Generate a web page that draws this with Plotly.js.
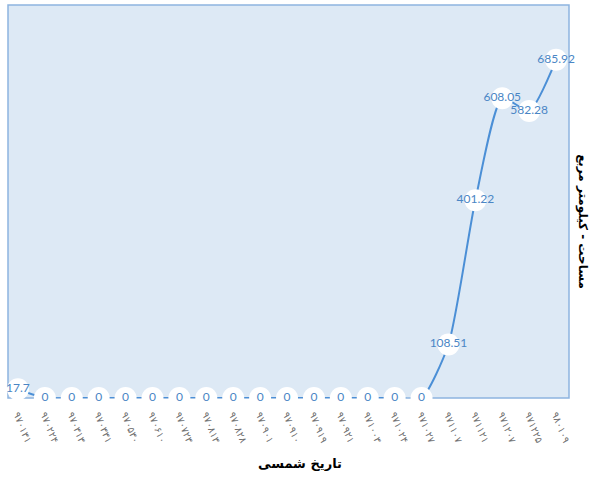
<!DOCTYPE html>
<html>
<head>
<meta charset="utf-8">
<script src="https://cdn.plot.ly/plotly-3.0.1.min.js"></script>
<style>html,body{margin:0;padding:0;background:#fff;}#chart{width:600px;height:479px;}</style>
</head>
<body>
<div id="chart"></div>
<script>
var dates = ['۹۷۰۱۳۱','۹۷۰۲۲۴','۹۷۰۳۱۳','۹۷۰۳۳۱','۹۷۰۵۳۰','۹۷۰۶۱۰','۹۷۰۷۲۳','۹۷۰۸۱۳','۹۷۰۸۲۸','۹۷۰۹۰۱','۹۷۰۹۱۰','۹۷۰۹۱۹','۹۷۰۹۲۱','۹۷۱۰۰۳','۹۷۱۰۲۴','۹۷۱۰۲۷','۹۷۱۱۰۷','۹۷۱۱۲۱','۹۷۱۲۰۷','۹۷۱۲۲۵','۹۸۰۱۰۹'];
var areas = [17.7,0,0,0,0,0,0,0,0,0,0,0,0,0,0,0,108.51,401.22,608.05,582.28,685.92];
var idx = dates.map(function(d,i){return i;});

var trace = {
  x: idx, y: areas,
  type: 'scatter', mode: 'lines+markers+text',
  line: {color: '#4b8fd6', width: 2, shape: 'spline', smoothing: 0.6},
  marker: {size: 22, color: '#ffffff', line: {width: 0}},
  text: areas.map(String), textposition: 'middle center',
  textfont: {family: 'Lato, DejaVu Sans, sans-serif', size: 12, color: '#4a86c5'},
  cliponaxis: false, hoverinfo: 'none'
};

var layout = {
  width: 600, height: 479,
  margin: {l: 8, r: 31, t: 5, b: 81},
  paper_bgcolor: '#ffffff', plot_bgcolor: '#dde9f5',
  showlegend: false,
  xaxis: {
    range: [-0.37, 20.48], tickvals: idx, ticktext: dates, tickangle: 68,
    showgrid: false, zeroline: false, showline: false, ticks: '',
    ticklabelstandoff: 8,
    tickfont: {family: 'DejaVu Sans, sans-serif', size: 10, color: '#707070'},
    title: {text: ' ', font: {size: 1}}
  },
  yaxis: {
    range: [0, 797], showgrid: false, zeroline: false, showticklabels: false, ticks: '', showline: false
  },
  shapes: [{type: 'rect', xref: 'paper', yref: 'paper', x0: 0, x1: 1, y0: 0, y1: 1, line: {color: '#8db4e0', width: 1.5}, fillcolor: 'rgba(0,0,0,0)', layer: 'below'}],
  annotations: [{
    text: 'مساحت - کیلومتر مربع', xref: 'paper', yref: 'paper', x: 1, xanchor: 'center', xshift: 14, y: 0.45,
    showarrow: false, textangle: 90,
    font: {family: 'DejaVu Sans, sans-serif', size: 12, color: '#000000', weight: 'bold'}
  }, {
    text: 'تاریخ شمسی', xref: 'paper', yref: 'paper', x: 0.52, y: 0, yshift: -65, xanchor: 'center', yanchor: 'middle',
    showarrow: false,
    font: {family: 'DejaVu Sans, sans-serif', size: 13, color: '#000000', weight: 'bold'}
  }]
};

Plotly.newPlot('chart', [trace], layout, {displayModeBar: false, staticPlot: true});
</script>
</body>
</html>
